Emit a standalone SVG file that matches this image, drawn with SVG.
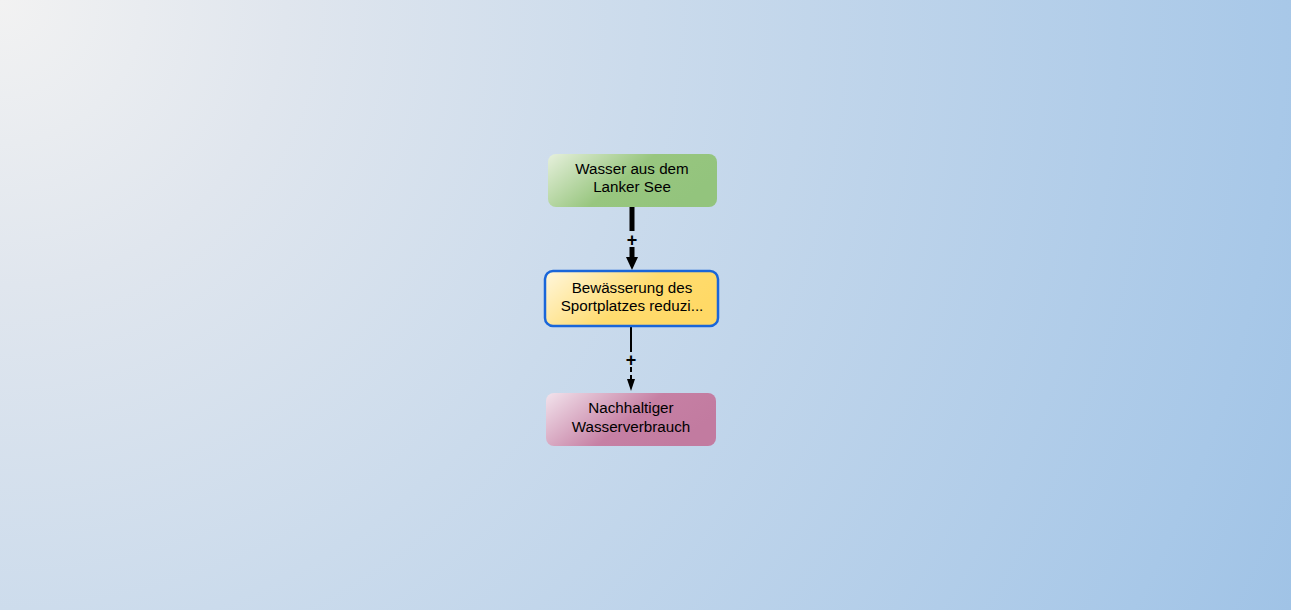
<svg xmlns="http://www.w3.org/2000/svg" width="1291" height="610" viewBox="0 0 1291 610">
<defs>
<radialGradient id="bg" cx="0" cy="0" r="1428" fx="0" fy="0" gradientUnits="userSpaceOnUse">
<stop offset="0" stop-color="#f2f2f2"/>
<stop offset="0.2" stop-color="#e0e6ee"/>
<stop offset="0.45" stop-color="#cbdbec"/>
<stop offset="0.9" stop-color="#a8c8e8"/>
<stop offset="1" stop-color="#a0c3e6"/>
</radialGradient>
<linearGradient id="g1" x1="0" y1="0" x2="1" y2="0.4">
<stop offset="0" stop-color="#e6f0dc"/>
<stop offset="0.55" stop-color="#98c67f"/>
<stop offset="1" stop-color="#93c47d"/>
</linearGradient>
<linearGradient id="g2" x1="0" y1="0" x2="1" y2="0.4">
<stop offset="0" stop-color="#fff7de"/>
<stop offset="0.6" stop-color="#ffdc70"/>
<stop offset="1" stop-color="#ffd966"/>
</linearGradient>
<linearGradient id="g3" x1="0" y1="0" x2="1" y2="0.4">
<stop offset="0" stop-color="#f2e3ec"/>
<stop offset="0.6" stop-color="#c680a4"/>
<stop offset="1" stop-color="#c27ba0"/>
</linearGradient>
</defs>
<style>
.lbl{font-family:"Liberation Sans",Arial,sans-serif;font-size:15.2px;fill:#000;text-anchor:middle}
.sign{font-family:"Liberation Sans",Arial,sans-serif;font-size:18px;font-weight:bold;fill:#000;text-anchor:middle}
</style>
<rect x="0" y="0" width="1291" height="610" fill="url(#bg)"/>
<g id="connectors">
<g id="c1">
<line x1="632" y1="207" x2="632" y2="231" stroke="#000" stroke-width="5"/>
<line x1="632" y1="247" x2="632" y2="258" stroke="#000" stroke-width="5"/>
<path d="M626,257 L638,257 L632,270 Z" fill="#000"/>
<text class="sign" x="632" y="246">+</text>
</g>
<g id="c2">
<line x1="631" y1="327" x2="631" y2="352" stroke="#000" stroke-width="2"/>
<line x1="631" y1="367" x2="631" y2="380" stroke="#000" stroke-width="2" stroke-dasharray="5,3"/>
<path d="M627,379 L635,379 L631,391 Z" fill="#000"/>
<text class="sign" x="631" y="366">+</text>
</g>
</g>
<g id="n1">
<rect x="548" y="154" width="169" height="53" rx="8" fill="url(#g1)"/>
<text class="lbl" x="632" y="174">Wasser aus dem</text>
<text class="lbl" x="632" y="192">Lanker See</text>
</g>
<g id="n2">
<rect x="545" y="271" width="173" height="55" rx="8" fill="url(#g2)" stroke="#1a66d9" stroke-width="2.5"/>
<text class="lbl" x="632" y="293">Bewässerung des</text>
<text class="lbl" x="632" y="311">Sportplatzes reduzi...</text>
</g>
<g id="n3">
<rect x="546" y="393" width="170" height="53" rx="8" fill="url(#g3)"/>
<text class="lbl" x="631" y="413">Nachhaltiger</text>
<text class="lbl" x="631" y="432">Wasserverbrauch</text>
</g>
</svg>
